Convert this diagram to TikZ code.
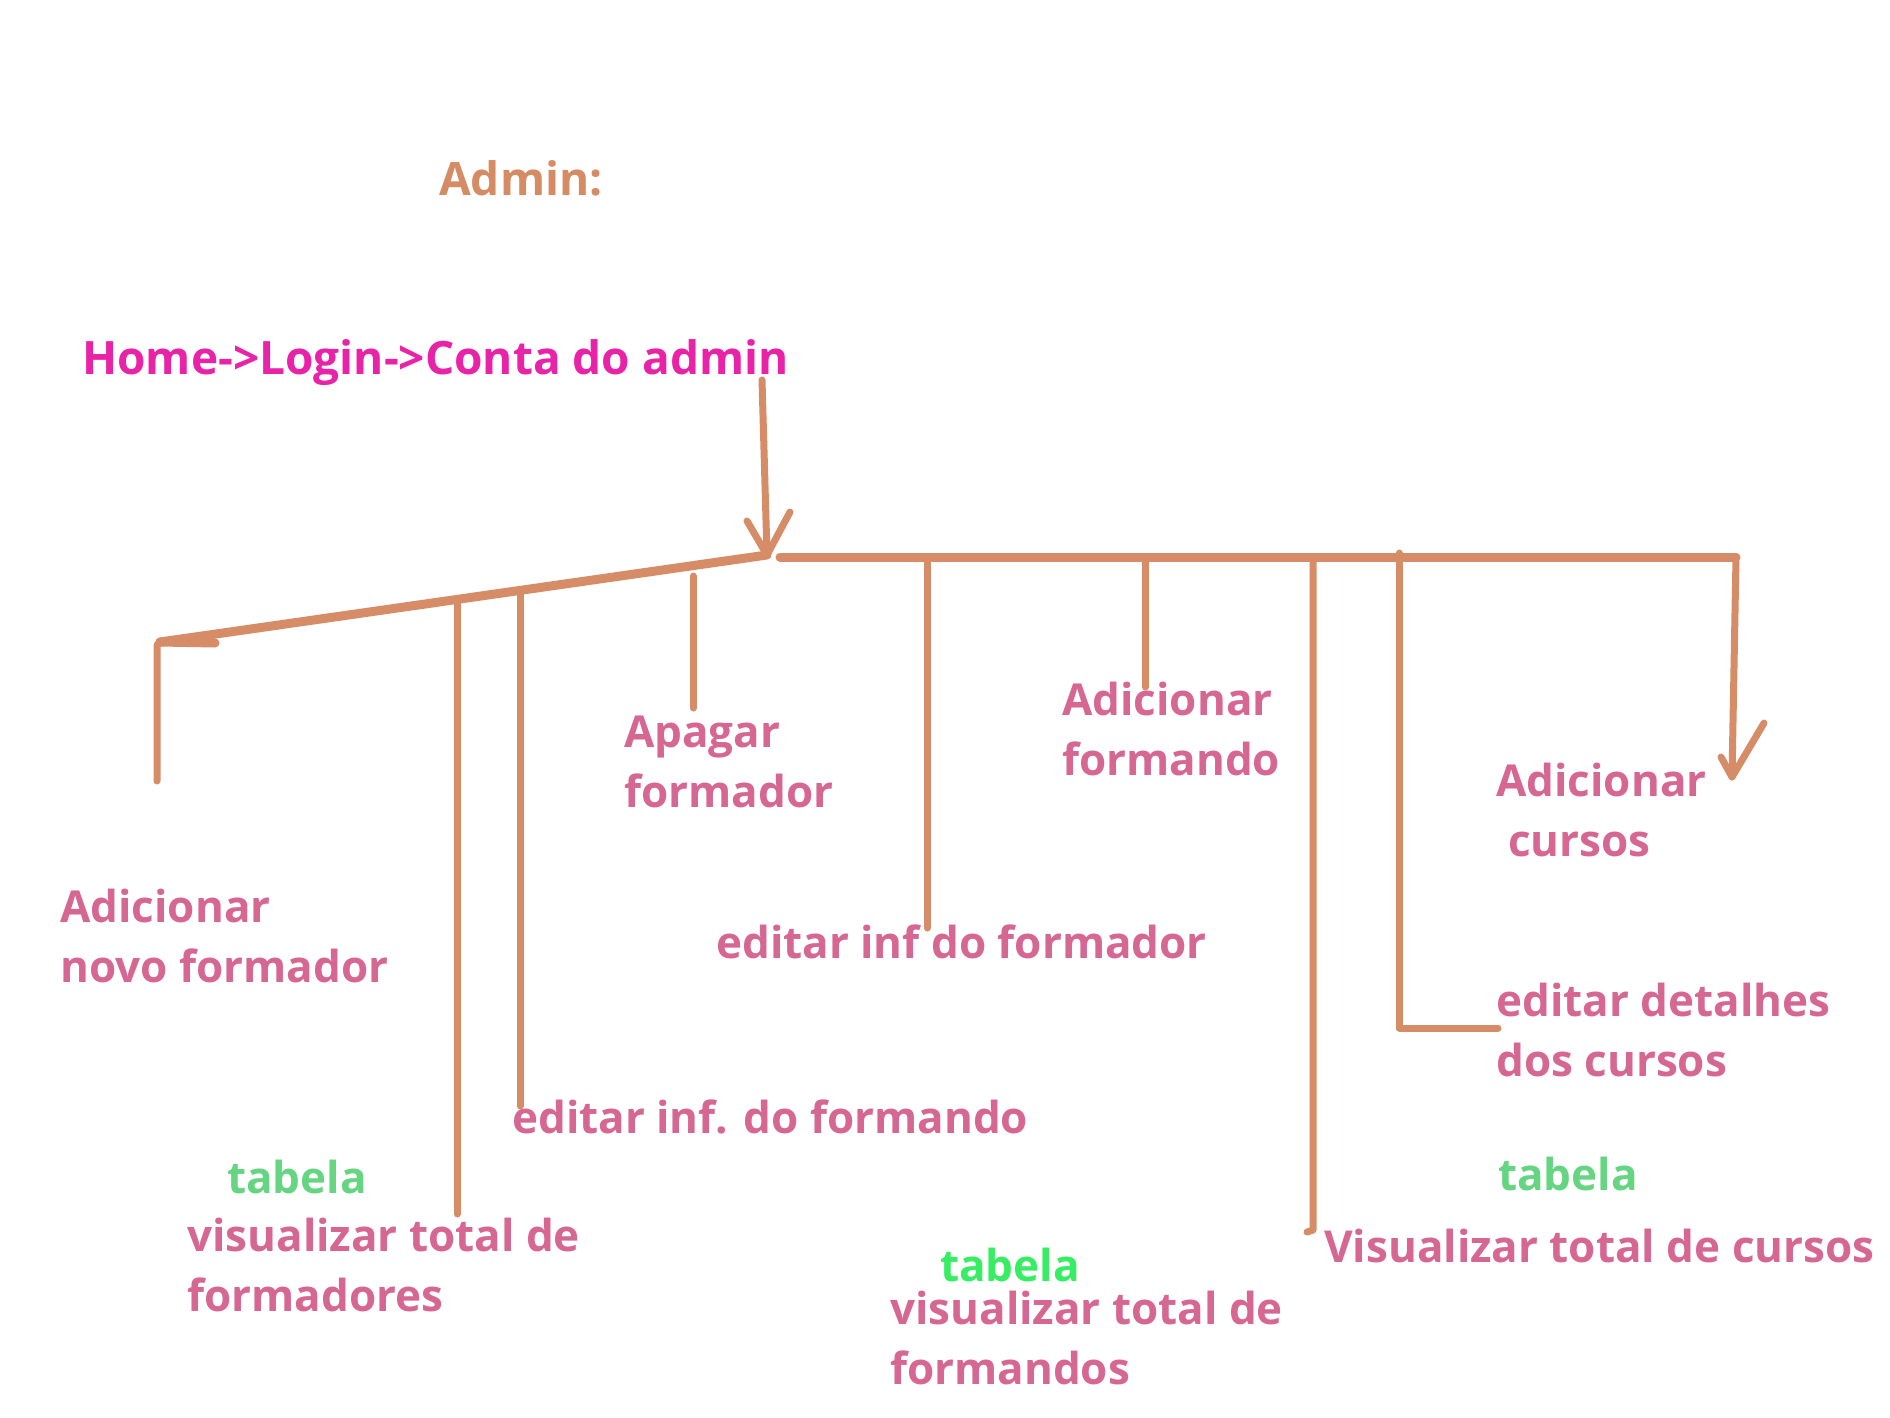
\documentclass[tikz,border=0pt]{standalone}
\usepackage{fontspec}
\setmainfont{Open Sans}
\definecolor{lineC}{HTML}{D68D67}
\definecolor{labC}{HTML}{D66793}
\definecolor{adminC}{HTML}{D58B63}
\definecolor{homeC}{HTML}{E823A8}
\definecolor{greenA}{HTML}{66D582}
\definecolor{greenB}{HTML}{37EE63}
\begin{document}
\begin{tikzpicture}[x=1pt,y=-1pt,
  lab/.style={anchor=base west, inner sep=0pt, text=labC, font=\bfseries\fontsize{44}{60}\selectfont, align=left},
  tab/.style={lab, text=greenA},
  trunk/.style={draw=lineC, line width=9pt, line cap=round, line join=round},
  twig/.style={draw=lineC, line width=7pt, line cap=round, line join=round}]
\useasboundingbox[fill=white] (0,0) rectangle (1890,1417);

% titles
\node[lab, text=adminC, font=\bfseries\fontsize{46}{60}\selectfont] (admin) at (439,195) {Admin:};
\node[lab, text=homeC, font=\bfseries\fontsize{46}{60}\selectfont] (home) at (82,374) {Home->Login->Conta do admin};

% labels (multi-line: anchor at last baseline)
\node[lab] (novo) at (60,982) {Adicionar\\novo formador};
\node[lab] (apagar) at (624,807) {Apagar\\formador};
\node[lab] (addfdo) at (1062,775) {Adicionar\\formando};
\node[lab] (addcur) at (1496,856) {Adicionar\\\hspace*{12pt}cursos};
\node[lab] (edfdor) at (716,958) {editar inf do formador};
\node[lab] (edcur) at (1496,1076) {editar detalhes\\dos cursos};
\node[lab] (edfdo) at (512,1133) {editar inf. do formando};
\node[tab] (tab1) at (227,1193) {tabela};
\node[lab] (visfdor) at (187,1311) {visualizar total de\\formadores};
\node[tab, text=greenB] (tab2) at (940,1281) {tabela};
\node[lab] (visfdo) at (890,1384) {visualizar total de\\formandos};
\node[tab] (tab3) at (1498,1190) {tabela};
\node[lab] (viscur) at (1324,1262) {Visualizar total de cursos};

% coordinates
\coordinate (top) at (762,380);
\coordinate (J) at (767,555);
\coordinate (L) at (160,642);
\coordinate (R0) at (780,557);
\coordinate (R1) at (1736,557);
\coordinate (s1) at (457,601);
\coordinate (s2) at (520,592);
\coordinate (s3) at (693,576);
\coordinate (h1) at (927,557);
\coordinate (h2) at (1145,557);
\coordinate (h3) at (1313,560);
\coordinate (h4) at (1399,553);
\coordinate (e0) at (157,781);
\coordinate (e1) at (457,1214);
\coordinate (e2) at (520,1106);
\coordinate (e3) at (693,708);
\coordinate (f1) at (927,928);
\coordinate (f2) at (1145,687);
\coordinate (f3) at (1313,1230);
\coordinate (f4) at (1399,1028);
\coordinate (f4b) at (1498,1028);
\coordinate (tipR) at (1732,777);

% main arrow
\draw[twig] (top) -- (J);
\draw[twig] (747,521) -- (J) -- (790,512);

% sloped trunk
\draw[trunk] (J) -- (L);
\draw[trunk] (L) -- (215,643);
\draw[twig] (L) -- (157,645) -- (e0);
\draw[twig] (s1) -- (e1);
\draw[twig] (s2) -- (e2);
\draw[twig] (s3) -- (e3);

% horizontal trunk
\draw[trunk] (R0) -- (R1);
\draw[twig] (h1) -- (f1);
\draw[twig] (h2) -- (f2);
\draw[twig] (h3) -- (f3) -- (1307,1232);
\draw[twig] (h4) -- (f4) -- (f4b);
\draw[twig] (R1) -- (tipR);
\draw[twig] (1721,757) -- (tipR) -- (1764,723);
\end{tikzpicture}
\end{document}
